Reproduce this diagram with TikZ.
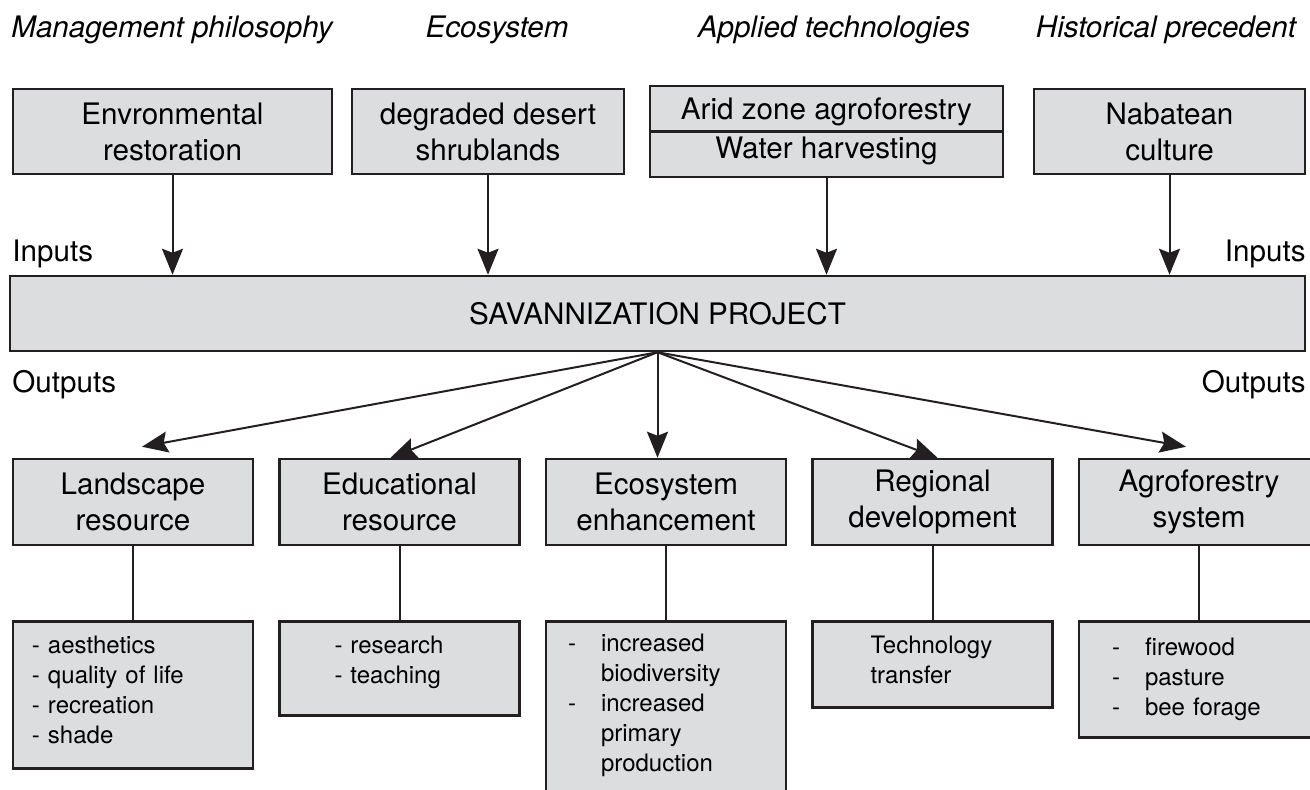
\documentclass[tikz,border=0pt]{standalone}
\usepackage{fontspec}
\setmainfont{TeX Gyre Heros}
\usetikzlibrary{positioning,arrows.meta,shapes.multipart}

\definecolor{boxgrey}{HTML}{DCDDDF}
\definecolor{ink}{HTML}{231F20}

\newcommand{\mainsize}{\fontsize{14.8pt}{18pt}\selectfont}
\newcommand{\listsize}{\fontsize{12pt}{15pt}\selectfont}
% hanging dash for the list boxes
\newcommand{\bul}{\makebox[16.5pt][l]{-}}
\newcommand{\cont}{\hspace*{16.5pt}}

\begin{document}
\begin{tikzpicture}[
	x=0.5pt, y=-0.5pt,
	font=\mainsize,
	node distance=12pt,
	box/.style={
		draw=ink,
		line width=1.25pt,
		fill=boxgrey,
		align=center,
		inner sep=0pt,
	},
	topbox/.style={box, minimum height=42.5pt},
	outbox/.style={box, minimum height=43pt, minimum width=120pt},
	detbox/.style={
		box,
		font=\listsize,
		align=left,
		minimum width=120pt,
	},
	heading/.style={font=\mainsize\itshape, anchor=base},
	side/.style={inner sep=0pt},
	arr/.style={-{Stealth[length=13pt, width=10.5pt, inset=2pt]}, line width=1pt, draw=ink},
	stem/.style={line width=1pt, draw=ink},
]

\useasboundingbox (0,0) rectangle (1310,789);
\clip (0,0) rectangle (1310,789);

% Headings over the input boxes
\node[heading] (philosophy) at (172,37) {Management philosophy};
\node[heading] (ecosystem)  at (497,37) {Ecosystem};
\node[heading] (applied)    at (834,37) {Applied technologies};
\node[heading] (precedent)  at (1166,37) {Historical precedent};

% Input boxes
\node[topbox, minimum width=159.5pt] (envbox) at (172.5,131.5) {Envronmental\\restoration};
\node[topbox, minimum width=136pt] (desertbox) at (488,131.5) {degraded desert\\shrublands};
\node[box, rectangle split, rectangle split parts=2, minimum width=176.5pt, inner ysep=3.9pt] (techbox) at (826.5,131.5)
	{\raisebox{-1.8pt}[10.6pt][3.1pt]{Arid zone agroforestry}\nodepart{two}\raisebox{1.8pt}[10.6pt][3.1pt]{Water harvesting}};
\node[topbox, minimum width=135.5pt] (histbox) at (1169.5,131.5) {Nabatean\\culture};

% Project
\node[box, minimum width=647.5pt, minimum height=37.5pt] (proj) at (657.5,313.5) {SAVANNIZATION PROJECT};

\node[side, anchor=base west] (inleft)  at (12,261) {Inputs};
\node[side, anchor=base east] (inright) at (1306,261) {Inputs};
\node[side, anchor=base west] (outleft)  at (12,392) {Outputs};
\node[side, anchor=base east] (outright) at (1306,392) {Outputs};

\draw[arr] (envbox.south) -- (envbox.south |- proj.north);
\draw[arr] (desertbox.south) -- (desertbox.south |- proj.north);
\draw[arr] (techbox.south) -- (techbox.south |- proj.north);
\draw[arr] (histbox.south) -- (histbox.south |- proj.north);

% Output boxes
\node[outbox] (landout) at (133,502) {Landscape\\resource};
\node[outbox, right=of landout] (eduout) {Educational\\resource};
\node[outbox, right=of eduout] (ecoout) {Ecosystem\\enhancement};
\node[outbox, right=of ecoout] (regout) {Regional\\development};
\node[outbox, right=of regout] (agroout) {Agroforestry\\system};

\draw[arr] (proj.south) -- ([shift={(9,-11)}]landout.north);
\draw[arr] (proj.south) -- ([xshift=-4.5pt]eduout.north);
\draw[arr] (proj.south) -- (proj.south |- ecoout.north);
\draw[arr] (proj.south) -- ([xshift=2.5pt]regout.north);
\draw[arr] (proj.south) -- ([shift={(-13,-11)}]agroout.north);

% Detail lists (text depth pulls the lines up towards the top edge)
\node[detbox, below=37pt of landout, minimum height=73.5pt, text width=101pt, text depth=50pt] (landdet)
	{- aesthetics\\- quality of life\\- recreation\\- shade};
\node[detbox, below=37pt of eduout, minimum height=47pt, text width=65pt, text depth=23.5pt] (edudet)
	{- research\\- teaching};
\node[detbox, below=37pt of ecoout, minimum height=89.5pt, text width=98pt, text depth=68.5pt] (ecodet)
	{\bul increased\\\cont biodiversity\\\bul increased\\\cont primary\\\cont production};
\node[detbox, below=37pt of regout, minimum height=43pt, text width=62pt, text depth=20pt] (regdet)
	{Technology\\transfer};
\node[detbox, below=37pt of agroout, minimum height=58pt, text width=87pt] (agrodet)
	{\bul firewood\\\bul pasture\\\bul bee forage};

\draw[stem] (landout.south) -- (landdet.north);
\draw[stem] (eduout.south) -- (edudet.north);
\draw[stem] (ecoout.south) -- (ecodet.north);
\draw[stem] (regout.south) -- (regdet.north);
\draw[stem] (agroout.south) -- (agrodet.north);

\end{tikzpicture}
\end{document}
